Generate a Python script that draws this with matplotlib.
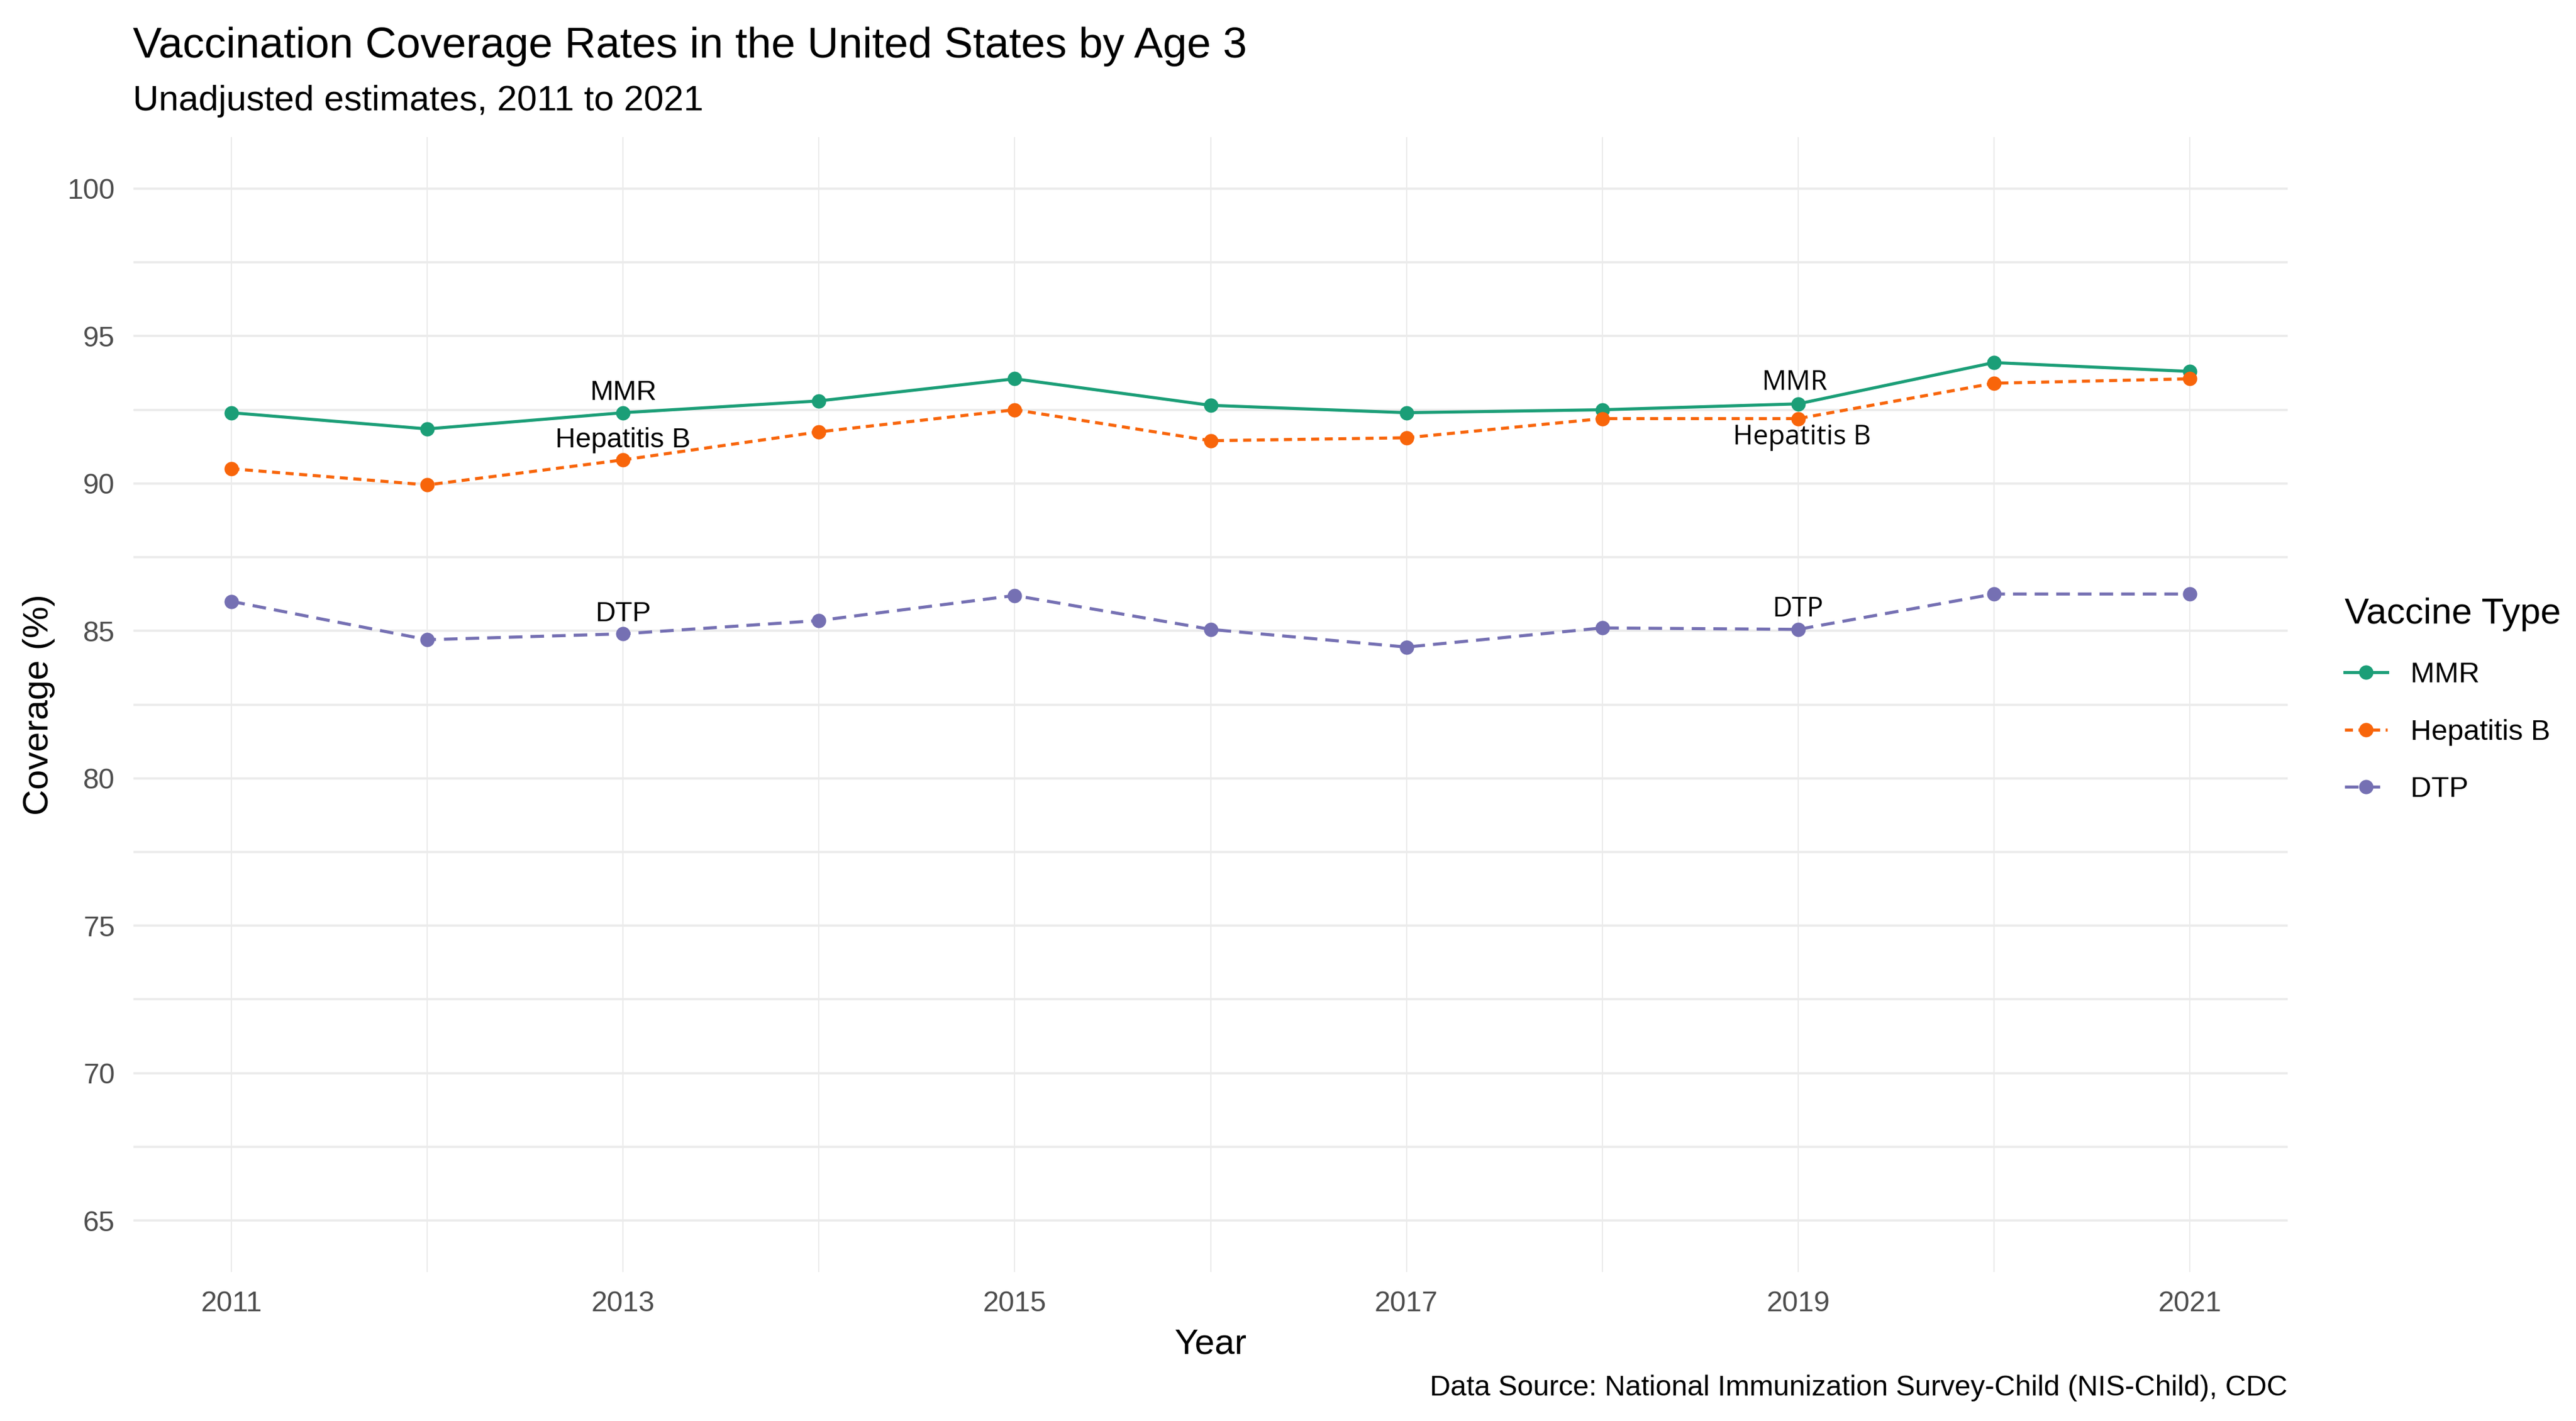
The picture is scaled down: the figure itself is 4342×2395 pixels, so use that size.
import matplotlib
matplotlib.use("Agg")
import matplotlib.pyplot as plt
from matplotlib.lines import Line2D

years = [2011, 2012, 2013, 2014, 2015, 2016, 2017, 2018, 2019, 2020, 2021]
mmr = [92.4, 91.85, 92.4, 92.8, 93.55, 92.65, 92.4, 92.5, 92.7, 94.1, 93.8]
hepb = [90.5, 89.95, 90.8, 91.75, 92.5, 91.45, 91.55, 92.2, 92.2, 93.4, 93.55]
dtp = [86.0, 84.7, 84.9, 85.35, 86.2, 85.05, 84.45, 85.1, 85.05, 86.25, 86.25]
series_names = ["MMR", "Hepatitis B", "DTP"]
colors = ["#1B9E77", "#F8650A", "#7570B3"]
y_ticks = [65, 70, 75, 80, 85, 90, 95, 100]
x_ticks = [2011, 2013, 2015, 2017, 2019, 2021]

W, H = 4342, 2395
DPI = 300
fig = plt.figure(figsize=(W / DPI, H / DPI), dpi=DPI)
plt.rcParams['font.family'] = ['Liberation Sans', 'DejaVu Sans']

L, R = 225 / W, 3856 / W
B, T = 1 - 2144 / H, 1 - 231 / H
ax = fig.add_axes([L, B, R - L, T - B])

dashes = [None, (0, (2.6, 1.8)), (0, (4.4, 2.6))]
values = [mmr, hepb, dtp]
for name, vals, c, d in zip(series_names, values, colors, dashes):
    kw = dict(color=c, lw=1.25, marker='o', ms=4.8, mec=c, mfc=c, zorder=3)
    if d is not None:
        kw['linestyle'] = d
    ax.plot(years, vals, label=name, **kw)

ax.set_xlim(2010.5, 2021.5)
ax.set_ylim(63.25, 101.75)
ax.set_xticks(x_ticks)
ax.set_xticks([2012, 2014, 2016, 2018, 2020], minor=True)
ax.set_yticks(y_ticks)
ax.set_yticks([67.5, 72.5, 77.5, 82.5, 87.5, 92.5, 97.5], minor=True)
ax.grid(True, axis='y', which='both', color='#EBEBEB', lw=0.9, zorder=0)
ax.grid(True, axis='x', which='both', color='#EBEBEB', lw=0.5, zorder=0)
for s in ax.spines.values():
    s.set_visible(False)
ax.tick_params(which='both', length=0)
ax.tick_params(axis='x', pad=7.5, labelsize=11.6, labelcolor='#4D4D4D')
ax.tick_params(axis='y', pad=7.5, labelsize=11.6, labelcolor='#4D4D4D')

ax.set_xlabel("Year", fontsize=14.5, labelpad=4.5)
ax.set_ylabel("Coverage (%)", fontsize=14.5, labelpad=5)

# labels at 2013 (Arial-like) and 2019 (Open Sans-like)
idx13 = years.index(2013)
idx19 = years.index(2019)
for name, vals in zip(series_names, values):
    ax.annotate(name, (2013, vals[idx13]), xytext=(0, 8), textcoords='offset points',
                ha='center', va='center', fontsize=11.3, color='black')
off19 = {"MMR": (-1.5, 8.5), "Hepatitis B": (1.5, -7.5), "DTP": (0, 8)}
for name, vals in zip(series_names, values):
    ax.annotate(name, (2019, vals[idx19]), xytext=off19[name], textcoords='offset points',
                ha='center', va='center', fontsize=11.0, color='black',
                family=['Open Sans', 'DejaVu Sans'])

fig.text(224 / W, 1 - 78 / H, "Vaccination Coverage Rates in the United States by Age 3",
         fontsize=17.5, ha='left', va='center')
fig.text(224 / W, 1 - 170 / H, "Unadjusted estimates, 2011 to 2021",
         fontsize=14.5, ha='left', va='center')
fig.text(R, 1 - 2340 / H, "Data Source: National Immunization Survey-Child (NIS-Child), CDC",
         fontsize=11.6, ha='right', va='center')

handles = [Line2D([], [], color=c, lw=1.25, marker='o', ms=4.8,
                  linestyle=(d if d is not None else '-'))
           for c, d in zip(colors, dashes)]
leg = fig.legend(handles, series_names, title="Vaccine Type", loc='center left',
                 bbox_to_anchor=(3908 / W, 1 - 1180 / H), frameon=False,
                 fontsize=11.7, title_fontsize=14.8, handlelength=1.48,
                 handletextpad=0.8, labelspacing=1.05)
leg._legend_box.align = "left"

fig.savefig("out.png", dpi=DPI, facecolor='white')
